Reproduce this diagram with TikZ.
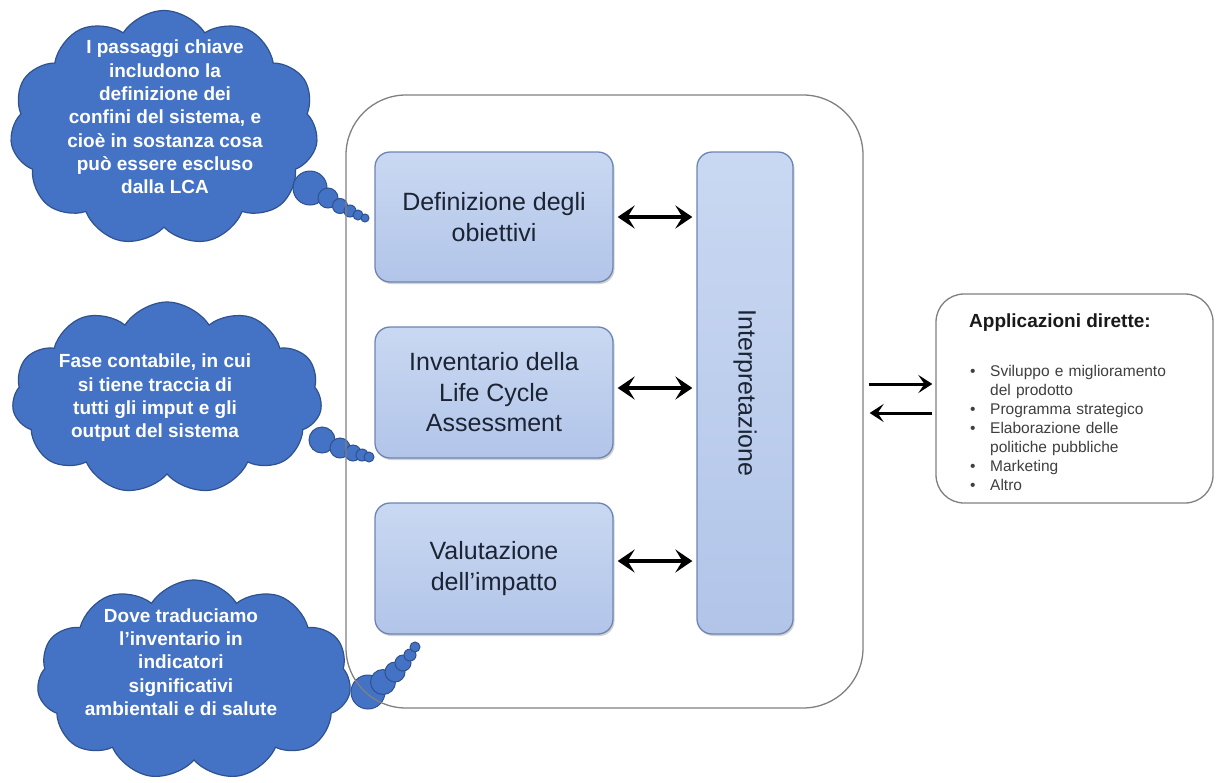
\documentclass[tikz,border=0pt]{standalone}
\usepackage{fontspec}
\setmainfont{Liberation Sans}
\usetikzlibrary{shapes.symbols,arrows.meta,shadows}
\definecolor{cloudfill}{HTML}{4472C4}
\definecolor{cloudline}{HTML}{2F528F}
\definecolor{boxtop}{HTML}{C9D8F2}
\definecolor{boxbot}{HTML}{B2C5E9}
\definecolor{boxline}{HTML}{6E85B3}
\definecolor{boxtext}{HTML}{1C2433}
\definecolor{frame}{HTML}{808080}
\definecolor{listtext}{HTML}{3F3F3F}
\newcommand\bulline[1]{\par\hangindent=21pt\hangafter=1\noindent\makebox[21pt][l]{\hspace{1pt}\textbullet}#1\par}
\begin{document}
\begin{tikzpicture}[x=1pt,y=-1pt,
  thought/.style={cloud, cloud puffs=11, cloud puff arc=115, cloud ignores aspect,
    fill=cloudfill, draw=cloudline, line width=1.2pt, inner sep=0pt},
  bubble/.style={fill=cloudfill, draw=cloudline, line width=1pt},
  cloudtext/.style={text=white, font=\fontsize{19}{23.3}\selectfont\bfseries, align=center, inner sep=0pt},
  phase/.style={rectangle, rounded corners=15pt, draw=boxline, line width=1.3pt,
    top color=boxtop, bottom color=boxbot,
    drop shadow={shadow xshift=1.5pt, shadow yshift=-2pt, opacity=0.35},
    text=boxtext, font=\fontsize{25}{30.5}\selectfont, align=center},
  frame/.style={rectangle, draw=frame, line width=1.3pt},
  dbl/.style={{Stealth[length=17pt,width=23pt,inset=7pt]}-{Stealth[length=17pt,width=23pt,inset=7pt]}, line width=3.6pt, shorten <=4pt, shorten >=4pt},
  arr/.style={-{Stealth[length=14pt,width=18pt,inset=6pt]}, line width=3pt}
]
\path[use as bounding box, fill=white] (0,0) rectangle (1217,782);

% clouds
\node[thought, minimum width=308pt, minimum height=235pt] (c1) at (164,128) {};
\node[thought, minimum width=310pt, minimum height=192pt] (c2) at (167,398) {};
\node[thought, minimum width=314pt, minimum height=200pt] (c3) at (194,680) {};

% thought bubbles
\path[bubble] (310,188) circle (17);
\path[bubble] (328,198) circle (10);
\path[bubble] (340,206) circle (7.5);
\path[bubble] (350,211) circle (6);
\path[bubble] (358,215) circle (5);
\path[bubble] (365,218) circle (4);

\path[bubble] (322,440) circle (13);
\path[bubble] (340,448) circle (10);
\path[bubble] (353,453) circle (8);
\path[bubble] (362,455) circle (6);
\path[bubble] (369,457) circle (5);

\path[bubble] (368,692) circle (17);
\path[bubble] (383,682) circle (12.5);
\path[bubble] (395,672) circle (10);
\path[bubble] (403,663) circle (8);
\path[bubble] (410,655) circle (6);
\path[bubble] (415,647) circle (5);

% cloud texts
\node[cloudtext] (t1) at (165,117) {I passaggi chiave\\includono la\\definizione dei\\confini del sistema, e\\cioè in sostanza cosa\\può essere escluso\\dalla LCA};
\node[cloudtext] (t2) at (155,398) {Fase contabile, in cui\\si tiene traccia di\\tutti gli imput e gli\\output del sistema};
\node[cloudtext] (t3) at (181,662) {Dove traduciamo\\l’inventario in\\indicatori\\significativi\\ambientali e di salute};

% big frame
\node[frame, rounded corners=60pt, minimum width=517pt, minimum height=613pt] (big) at (604.5,401.5) {};

% phases
\node[phase, minimum width=238pt, minimum height=130pt] (b1) at (494,217) {Definizione degli\\obiettivi};
\node[phase, minimum width=238pt, minimum height=131pt] (b2) at (494,392.5) {Inventario della\\Life Cycle\\Assessment};
\node[phase, minimum width=238pt, minimum height=131pt] (b3) at (494,568.5) {Valutazione\\dell’impatto};
\node[phase, minimum width=96pt, minimum height=482pt] (bar) at (745,393) {};
\node[rotate=-90, text=boxtext, font=\fontsize{25}{30}\selectfont] (barlabel) at (bar.center) {Interpretazione};

% double arrows
\coordinate (a1) at (b1.east);
\coordinate (a2) at ([yshift=4.5pt]b2.east);
\coordinate (a3) at ([yshift=7.5pt]b3.east);
\draw[dbl] (a1) -- (a1 -| bar.west);
\draw[dbl] (a2) -- (a2 -| bar.west);
\draw[dbl] (a3) -- (a3 -| bar.west);

% applications box
\node[frame, rounded corners=28pt, minimum width=277pt, minimum height=209pt] (rb) at (1074.5,398.5) {};
\node[anchor=base west, font=\fontsize{19}{22}\selectfont\bfseries, text=black!90, inner sep=0pt] (title) at (969,327) {Applicazioni dirette:};
\node[anchor=north west, text width=220pt, inner sep=0pt, text=listtext, font=\fontsize{15.5}{19}\selectfont] (apps) at (969,357) {%
\bulline{Sviluppo e miglioramento\newline del prodotto}
\bulline{Programma strategico}
\bulline{Elaborazione delle\newline politiche pubbliche}
\bulline{Marketing}
\bulline{Altro}};

% arrows to/from applications
\coordinate (r1) at ([yshift=14.5pt]rb.west);
\coordinate (r2) at ([yshift=-14.5pt]rb.west);
\draw[arr, shorten <=5pt, shorten >=3pt] (r1 -| big.east) -- (r1);
\draw[arr, shorten <=3pt, shorten >=6pt] (r2) -- (r2 -| big.east);
\end{tikzpicture}
\end{document}
